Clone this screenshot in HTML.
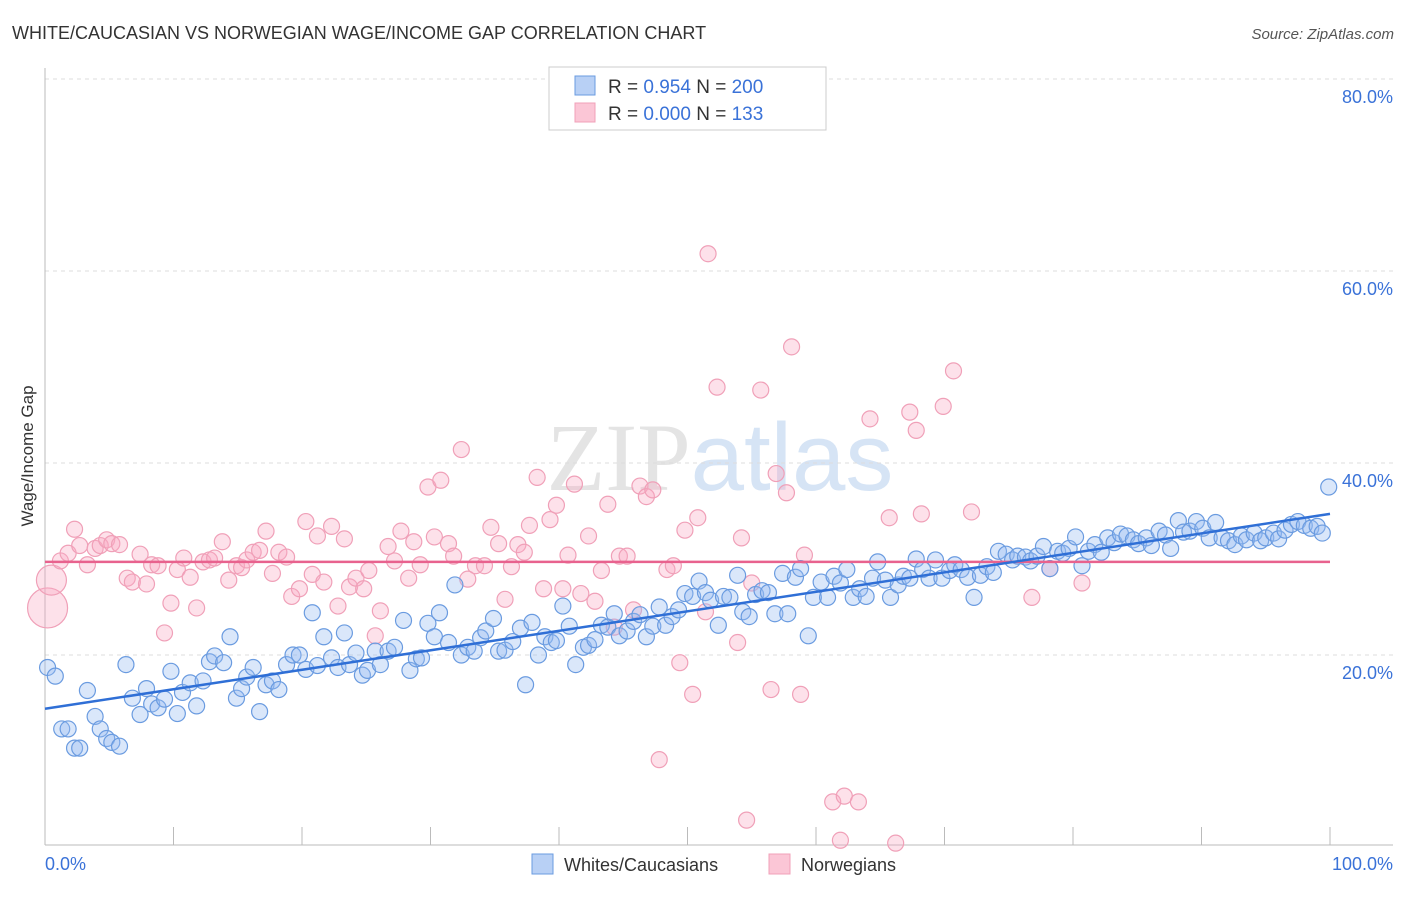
<!DOCTYPE html>
<html><head><meta charset="utf-8"><style>
body{margin:0;background:#fff;width:1406px;height:892px;overflow:hidden;font-family:"Liberation Sans",sans-serif}
</style></head><body>
<svg width="1406" height="892" xmlns="http://www.w3.org/2000/svg" id="svg">
<text x="12" y="39" font-size="18" fill="#333">WHITE/CAUCASIAN VS NORWEGIAN WAGE/INCOME GAP CORRELATION CHART</text>
<text x="1394" y="39" font-size="15" fill="#555" text-anchor="end" font-style="italic">Source: ZipAtlas.com</text>
<text x="720" y="490" font-size="96" text-anchor="middle" fill="#e4e4e4" font-family="Liberation Serif">ZIP<tspan fill="#d6e4f5" font-family="Liberation Sans">atlas</tspan></text>
<g id="grid"></g>
<g id="marks"></g>
<text transform="translate(33,456) rotate(-90)" font-size="17" fill="#333" text-anchor="middle">Wage/Income Gap</text>
<g>
<rect x="549" y="67" width="277" height="63" fill="#fff" stroke="#ccc"/>
<rect x="575" y="76" width="20" height="19" fill="#b8d0f5" stroke="#6a9be0"/>
<rect x="575" y="103" width="20" height="19" fill="#fbc6d6" stroke="#f0a0b8"/>
<text x="608" y="93" font-size="19" fill="#333">R = <tspan fill="#3a72d8">0.954</tspan>   N = <tspan fill="#3a72d8">200</tspan></text>
<text x="608" y="120" font-size="19" fill="#333">R = <tspan fill="#3a72d8">0.000</tspan>   N = <tspan fill="#3a72d8">  133</tspan></text>
</g>
<g>
<rect x="532" y="854" width="21" height="20" fill="#b8d0f5" stroke="#6a9be0"/>
<text x="564" y="871" font-size="18" fill="#333">Whites/Caucasians</text>
<rect x="769" y="854" width="21" height="20" fill="#fbc6d6" stroke="#f0a0b8"/>
<text x="801" y="871" font-size="18" fill="#333">Norwegians</text>
</g>
</svg>
<script>
const yTicks=[20,40,60,80];
const yTickLabels=["20.0%","40.0%","60.0%","80.0%"];
const xTicks=[0,10,20,30,40,50,60,70,80,90,100];
const blueX=[0.2,0.8,1.3,1.8,2.3,2.7,3.3,3.9,4.3,4.8,5.2,5.8,6.3,6.8,7.4,7.9,8.3,8.8,9.3,9.8,10.3,10.7,11.3,11.8,12.3,12.8,13.2,13.9,14.4,14.9,15.3,15.7,16.2,16.7,17.2,17.7,18.2,18.8,19.3,19.8,20.3,20.8,21.2,21.7,22.3,22.8,23.3,23.7,24.2,24.7,25.1,25.7,26.1,26.7,27.2,27.9,28.4,28.9,29.3,29.8,30.3,30.7,31.4,31.9,32.4,32.9,33.4,33.9,34.3,34.9,35.3,35.8,36.4,37.0,37.4,37.9,38.4,38.9,39.4,39.8,40.3,40.8,41.3,41.9,42.3,42.8,43.3,43.8,44.3,44.7,45.3,45.8,46.3,46.8,47.3,47.8,48.3,48.8,49.3,49.8,50.4,50.9,51.4,51.8,52.4,52.8,53.3,53.9,54.3,54.8,55.3,55.8,56.3,56.8,57.4,57.8,58.4,58.8,59.4,59.8,60.4,60.9,61.4,61.9,62.4,62.9,63.4,63.9,64.4,64.8,65.4,65.8,66.4,66.8,67.3,67.8,68.3,68.8,69.3,69.8,70.4,70.8,71.3,71.8,72.3,72.8,73.3,73.8,74.2,74.8,75.3,75.7,76.3,76.7,77.2,77.7,78.2,78.8,79.2,79.7,80.2,80.7,81.2,81.7,82.2,82.7,83.2,83.7,84.2,84.7,85.1,85.7,86.1,86.7,87.2,87.6,88.2,88.6,89.1,89.6,90.1,90.6,91.1,91.6,92.1,92.6,93.1,93.5,94.1,94.6,95.0,95.6,96.0,96.5,97.0,97.5,98.0,98.5,99.0,99.4,99.9];
const blueY=[18.7,17.8,12.3,12.3,10.3,10.3,16.3,13.6,12.3,11.3,10.9,10.5,19.0,15.5,13.8,16.5,14.9,14.5,15.4,18.3,13.9,16.1,17.1,14.7,17.3,19.3,19.9,19.2,21.9,15.5,16.5,17.7,18.7,14.1,16.9,17.3,16.4,19.0,20.0,20.0,18.5,24.4,18.9,21.9,19.7,18.7,22.3,19.0,20.2,17.9,18.4,20.4,19.0,20.4,20.8,23.6,18.4,19.6,19.7,23.3,21.9,24.4,21.3,27.3,20.0,20.8,20.4,21.8,22.5,23.8,20.4,20.5,21.4,22.8,16.9,23.4,20.0,21.9,21.3,21.5,25.1,23.0,19.0,20.8,21.0,21.6,23.1,22.9,24.3,22.0,22.5,23.5,24.2,21.9,23.0,25.0,23.1,24.0,24.7,26.4,26.1,27.7,26.5,25.7,23.1,26.1,26.0,28.3,24.5,24.0,26.3,26.7,26.5,24.3,28.5,24.3,28.1,29.0,22.0,26.0,27.6,26.0,28.2,27.5,28.9,26.0,26.9,26.1,28.0,29.7,27.8,26.0,27.3,28.2,28.0,30.0,28.9,28.0,29.9,28.0,28.8,29.4,28.9,28.1,26.0,28.3,29.2,28.6,30.8,30.5,29.9,30.3,30.2,29.8,30.3,31.3,29.0,30.8,30.6,31.1,32.3,29.3,30.8,31.5,30.7,32.2,31.7,32.6,32.4,32.0,31.6,32.2,31.4,32.9,32.5,31.1,34.0,32.8,32.9,33.9,33.2,32.2,33.8,32.2,31.9,31.5,32.4,32.0,32.7,31.9,32.2,32.7,32.1,33.0,33.6,33.9,33.5,33.2,33.4,32.7,37.5];
const pinkX=[0.2,0.5,1.2,1.8,2.3,2.7,3.3,3.9,4.3,4.8,5.2,5.8,6.4,6.8,7.4,7.9,8.3,8.8,9.3,9.8,10.3,10.8,11.3,11.8,12.3,12.8,13.2,13.8,14.3,14.9,15.3,15.7,16.2,16.7,17.2,17.7,18.2,18.8,19.2,19.8,20.3,20.8,21.2,21.7,22.3,22.8,23.3,23.7,24.2,24.8,25.2,25.7,26.1,26.7,27.2,27.7,28.3,28.7,29.2,29.8,30.3,30.8,31.4,31.8,32.4,32.9,33.5,34.2,34.7,35.3,35.8,36.3,36.8,37.3,37.7,38.3,38.8,39.3,39.8,40.3,40.7,41.2,41.7,42.3,42.8,43.3,43.8,44.3,44.7,45.3,45.8,46.3,46.8,47.3,47.8,48.4,48.9,49.4,49.8,50.4,50.8,51.4,51.6,52.3,53.9,54.2,54.6,55.0,55.7,56.5,56.9,57.7,58.1,58.8,59.1,61.3,61.9,62.2,63.3,64.2,65.7,66.2,67.3,67.8,68.2,69.9,70.7,72.1,76.8,78.2,80.7];
const pinkY=[24.9,27.8,29.8,30.6,33.1,31.4,29.4,31.1,31.4,32.0,31.6,31.5,28.0,27.6,30.5,27.4,29.4,29.3,22.3,25.4,28.9,30.1,28.1,24.9,29.7,29.9,30.1,31.8,27.8,29.3,29.1,29.9,30.7,30.9,32.9,28.5,30.7,30.2,26.1,26.9,33.9,28.4,32.4,27.6,33.4,25.1,32.1,27.1,28.0,26.9,28.8,22.0,24.6,31.3,29.8,32.9,28.0,31.8,29.4,37.5,32.3,38.2,31.6,30.3,41.4,27.9,29.3,29.3,33.3,31.6,25.8,29.2,31.5,30.7,33.5,38.5,26.9,34.1,35.6,26.9,30.4,37.8,26.4,32.4,25.6,28.8,35.7,22.9,30.3,30.3,24.7,37.6,36.5,37.2,9.1,28.9,29.3,19.2,33.0,15.9,34.3,24.5,61.8,47.9,21.3,32.2,2.8,27.5,47.6,16.4,38.9,36.9,52.1,15.9,30.4,4.7,0.7,5.3,4.7,44.6,34.3,0.4,45.3,43.4,34.7,45.9,49.6,34.9,26.0,29.0,27.5];
const blueFit=[14.4,34.7];
const pinkFit=[29.7,29.7];

const L=45,R=1330,T=79,B=847;
const xs=v=>L+(R-L)*v/100;
const ys=v=>B-(B-T)*v/80;
const NS="http://www.w3.org/2000/svg";
function mk(tag,attrs,parent){const e=document.createElementNS(NS,tag);for(const k in attrs)e.setAttribute(k,attrs[k]);parent.appendChild(e);return e;}
const grid=document.getElementById('grid'),marks=document.getElementById('marks');
yTicks.forEach((t,i)=>{
  let g=mk('line',{x1:L,x2:1393,y1:ys(t),y2:ys(t),stroke:'#ddd','stroke-dasharray':'4,4'},grid);
  
  
  let tx=mk('text',{x:1393,y:ys(t)+24,'font-size':18,fill:'#3a72d8','text-anchor':'end'},grid);
  tx.textContent=yTickLabels[i];
  
  
});
let ax=mk('line',{x1:L,x2:L,y1:68,y2:845,stroke:'#bbb'},grid);


let bx=mk('line',{x1:L,x2:1393,y1:845,y2:845,stroke:'#bbb'},grid);


xTicks.forEach(t=>{
  let k=mk('line',{x1:xs(t),x2:xs(t),y1:827,y2:845,stroke:'#bbb'},grid);
  
  
});
let x0=mk('text',{x:45,y:870,'font-size':18,fill:'#3a72d8'},grid);x0.textContent='0.0%';


let x1=mk('text',{x:1393,y:870,'font-size':18,fill:'#3a72d8','text-anchor':'end'},grid);x1.textContent='100.0%';



pinkX.forEach((x,i)=>{
  const r=i==0?20:(i==1?15:8);
  let c=mk('circle',{cx:xs(x),cy:ys(pinkY[i]),r:r,fill:'rgba(248,170,195,0.35)',stroke:'#f0a0b8','stroke-width':1.2},marks);
  
  
});
blueX.forEach((x,i)=>{
  let c=mk('circle',{cx:xs(x),cy:ys(blueY[i]),r:8,fill:'rgba(150,185,240,0.35)',stroke:'#6a9be0','stroke-width':1.2},marks);
  
  
});
let pl=mk('line',{x1:xs(0),x2:xs(100),y1:ys(pinkFit[0]),y2:ys(pinkFit[1]),stroke:'#e8628e','stroke-width':2.5},marks);


let bl=mk('line',{x1:xs(0),x2:xs(100),y1:ys(blueFit[0]),y2:ys(blueFit[1]),stroke:'#2f6fd6','stroke-width':2.5},marks);


</script>
</body></html>
